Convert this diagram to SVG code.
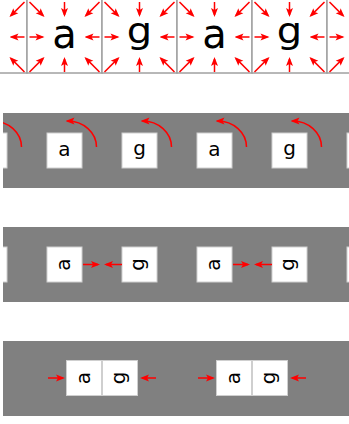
<svg xmlns="http://www.w3.org/2000/svg" xmlns:xlink="http://www.w3.org/1999/xlink" width="349" height="424" viewBox="0 0 349 424">
<style>
.arr{stroke:#ff0000;stroke-width:1.5;fill:none;marker-end:url(#ah)}
.tile{fill:#ffffff;stroke:#a0a0a0;stroke-width:1.5}
.band{fill:#808080}
.box{fill:#ffffff;stroke:#cfcfcf;stroke-width:1}
.big{font-family:"DejaVu Sans",sans-serif;font-size:40px;fill:#000;text-anchor:middle}
.sm{font-family:"DejaVu Sans",sans-serif;font-size:20px;fill:#000;text-anchor:middle}
</style>
<defs>
<marker id="ah" viewBox="-8 -4 10 8" refX="0" refY="0" markerWidth="10" markerHeight="8" markerUnits="userSpaceOnUse" orient="auto">
<path d="M2,0 L-7,-3.5 L-5,0 L-7,3.5 Z" fill="#ff0000"/>
</marker>
<g id="star">
<path class="arr" d="M-35,0 L-22,0"/>
<path class="arr" d="M35,0 L22,0"/>
<path class="arr" d="M0,-35 L0,-22"/>
<path class="arr" d="M0,35 L0,22"/>
<path class="arr" d="M-35,-35 L-21.4,-21.4"/>
<path class="arr" d="M35,-35 L21.4,-21.4"/>
<path class="arr" d="M-35,35 L-21.4,21.4"/>
<path class="arr" d="M35,35 L21.4,21.4"/>
</g>
<clipPath id="c2"><rect x="3" y="113" width="346" height="75"/></clipPath>
<clipPath id="c3"><rect x="3" y="227" width="346" height="75"/></clipPath>
</defs>
<rect width="349" height="424" fill="#ffffff"/>

<!-- Row 1 -->
<g id="row1">
<g id="tile-0"><rect class="tile" x="-48" y="-2" width="75" height="75"/><use xlink:href="#star" x="-10.5" y="37"/></g>
<g id="tile-a1"><rect class="tile" x="27" y="-2" width="75" height="75"/><text class="big" x="64.5" y="48">a</text><use xlink:href="#star" x="64.5" y="37"/></g>
<g id="tile-g1"><rect class="tile" x="102" y="-2" width="75" height="75"/><text class="big" x="0" y="7" transform="translate(139.5 36.5) scale(1 0.87)">g</text><use xlink:href="#star" x="139.5" y="37"/></g>
<g id="tile-a2"><rect class="tile" x="177" y="-2" width="75" height="75"/><text class="big" x="214.5" y="48">a</text><use xlink:href="#star" x="214.5" y="37"/></g>
<g id="tile-g2"><rect class="tile" x="252" y="-2" width="75" height="75"/><text class="big" x="0" y="7" transform="translate(289.5 36.5) scale(1 0.87)">g</text><use xlink:href="#star" x="289.5" y="37"/></g>
<g id="tile-5"><rect class="tile" x="327" y="-2" width="75" height="75"/><use xlink:href="#star" x="364.5" y="37"/></g>
</g>

<!-- Row 2 -->
<g id="row2">
<rect class="band" x="3" y="113" width="346" height="75"/>
<g clip-path="url(#c2)">
<g id="r2-box0"><rect class="box" x="-28" y="133" width="35" height="35"/></g>
<g id="r2-a1"><rect class="box" x="47" y="133" width="35" height="35"/><text class="sm" x="64.5" y="156">a</text></g>
<g id="r2-g1"><rect class="box" x="122" y="133" width="35" height="35"/><text class="sm" x="139.5" y="155">g</text></g>
<g id="r2-a2"><rect class="box" x="197" y="133" width="35" height="35"/><text class="sm" x="214.5" y="156">a</text></g>
<g id="r2-g2"><rect class="box" x="272" y="133" width="35" height="35"/><text class="sm" x="289.5" y="155">g</text></g>
<g id="r2-box5"><rect class="box" x="347" y="133" width="35" height="35"/></g>
<g id="r2-connectors">
<path class="arr" d="M21.5,147 A29,26 0 0 0 -7.5,121"/>
<path class="arr" d="M96.5,147 A29,26 0 0 0 67.5,121"/>
<path class="arr" d="M171.5,147 A29,26 0 0 0 142.5,121"/>
<path class="arr" d="M246.5,147 A29,26 0 0 0 217.5,121"/>
<path class="arr" d="M321.5,147 A29,26 0 0 0 292.5,121"/>
</g>
</g>
</g>

<!-- Row 3 -->
<g id="row3">
<rect class="band" x="3" y="227" width="346" height="75"/>
<g clip-path="url(#c3)">
<g id="r3-box0"><rect class="box" x="-28" y="247" width="35" height="35"/></g>
<g id="r3-a1"><rect class="box" x="47" y="247" width="35" height="35"/><text class="sm" x="64.5" y="270" transform="rotate(-90 64.5 264.5)">a</text></g>
<g id="r3-g1"><rect class="box" x="122" y="247" width="35" height="35"/><text class="sm" x="139.5" y="269" transform="rotate(-90 139.5 264.5)">g</text></g>
<g id="r3-a2"><rect class="box" x="197" y="247" width="35" height="35"/><text class="sm" x="214.5" y="270" transform="rotate(-90 214.5 264.5)">a</text></g>
<g id="r3-g2"><rect class="box" x="272" y="247" width="35" height="35"/><text class="sm" x="289.5" y="269" transform="rotate(-90 289.5 264.5)">g</text></g>
<g id="r3-box5"><rect class="box" x="347" y="247" width="35" height="35"/></g>
<g id="r3-connectors">
<path class="arr" d="M83,264.5 L98,264.5"/>
<path class="arr" d="M122,264.5 L106,264.5"/>
<path class="arr" d="M233,264.5 L248,264.5"/>
<path class="arr" d="M272,264.5 L256,264.5"/>
</g>
</g>
</g>

<!-- Row 4 -->
<g id="row4">
<rect class="band" x="3" y="341" width="346" height="75"/>
<g id="r4-a1"><rect class="box" x="66.5" y="360.5" width="35" height="35"/><text class="sm" x="84" y="383.5" transform="rotate(-90 84 378)">a</text></g>
<g id="r4-g1"><rect class="box" x="102.5" y="360.5" width="35" height="35"/><text class="sm" x="120" y="382.5" transform="rotate(-90 120 378)">g</text></g>
<g id="r4-a2"><rect class="box" x="216.5" y="360.5" width="35" height="35"/><text class="sm" x="234" y="383.5" transform="rotate(-90 234 378)">a</text></g>
<g id="r4-g2"><rect class="box" x="252.5" y="360.5" width="35" height="35"/><text class="sm" x="270" y="382.5" transform="rotate(-90 270 378)">g</text></g>
<g id="r4-connectors">
<path class="arr" d="M48,378 L63,378"/>
<path class="arr" d="M156,378 L142,378"/>
<path class="arr" d="M198,378 L213,378"/>
<path class="arr" d="M306,378 L292,378"/>
</g>
</g>
</svg>
